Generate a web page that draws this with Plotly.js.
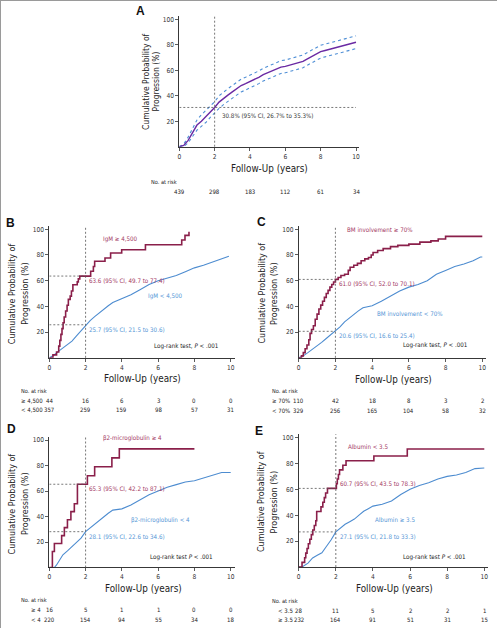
<!DOCTYPE html>
<html><head><meta charset="utf-8">
<script src="https://cdn.plot.ly/plotly-3.0.1.min.js"></script>
<style>html,body{margin:0;padding:0;background:#fff}#chart{width:497px;height:628px}</style>
</head><body><div id="chart"></div>
<script>
// ---------------- DATA ----------------
const landmarkYear = 2;
const riskTimes = [0, 2, 4, 6, 8, 10];

// Panel A: overall cumulative probability of progression with 95% CI
const aTime  = [0,0.25,0.5,0.75,1,1.25,1.5,1.75,2,2.25,2.5,2.75,3,3.25,3.5,3.75,4,4.25,4.5,4.75,5,5.25,5.5,5.75,6,6.25,6.5,6.75,7,7.25,7.5,7.75,8,8.25,8.5,8.75,9,9.25,9.5,9.75,10];
const aCum   = [0,1,5,11,17,20,23.5,27,30.8,35,38,40.5,43,45.5,48,49.5,51,52.5,54.5,56.5,58,60,61.5,62.5,63,64,65,66,67,69,71,73,74.6,75.5,76.4,77.5,78.5,79.5,80.4,81.3,82];
const aUpper = [0,2,7.5,14,21,25,28.5,32,35.3,40,43,45.5,48,50.5,53,54.5,56,57.5,59.5,61.5,63,65,66.5,67.5,68,69,70,71,72,74,76,78,79.6,80.5,81.4,82.5,83.5,84.5,85.4,86.3,87];
const aLower = [0,0,3,8,13,16,19,23,26.7,30,33,35.5,38,40.5,43,44.5,46,47.5,49.5,51.5,53,55,56.5,57.5,58,59,60,61,62,64,66,68,69.6,70.5,71.4,72.5,73.5,74.5,75.4,76.3,77];
const aEst = 30.8, aLo = 26.7, aHi = 35.3;
const aRisk = [439, 298, 183, 112, 61, 34];

// Panel B: IgM
const bGroups = ['IgM ≥ 4,500', 'IgM &lt; 4,500'];
const bRiskLabels = ['≥ 4,500', '&lt; 4,500'];
const bHighTime = [0,0.2,0.4,0.52,0.58,0.64,0.7,0.76,0.82,0.9,0.98,1.05,1.15,1.22,1.3,1.54,1.6,1.68,2.28,2.43,2.5,3.07,3.38,3.99,5.3,7.3,7.48,7.7];
const bHighCum  = [0,2.3,4.5,9.1,13.6,18.2,22.7,27.3,31.8,36.4,40.9,45.5,48,52,56.8,59.1,61.4,63.6,67.3,71,75.1,77.7,81.6,84.1,88,91.7,95.3,98];
const bLowTime  = [0,0.25,0.5,0.75,1,1.25,1.5,1.75,2,2.25,2.5,2.75,3,3.25,3.5,3.75,4,4.5,5,5.5,6,6.5,7,7.5,8,8.5,9,9.5,9.8,9.9];
const bLowCum   = [0,2,5,7.5,10,13,17,21,25.7,29,32,35,38,40.5,43,44.5,46,49,53,57,60,62,64,67,70,72,74.5,77,79,79];
const bEst = [63.6, 25.7], bLo = [49.7, 21.5], bHi = [77.4, 30.6];
const bRiskHigh = [44, 16, 6, 3, 0, 0];
const bRiskLow  = [357, 259, 159, 98, 57, 31];

// Panel C: BM involvement
const cGroups = ['BM involvement ≥ 70%', 'BM involvement &lt; 70%'];
const cRiskLabels = ['≥ 70%', '&lt; 70%'];
const cHighTime = [0,0.15,0.25,0.35,0.45,0.55,0.62,0.7,0.8,0.9,1.0,1.1,1.2,1.3,1.4,1.5,1.6,1.7,1.8,1.9,2.0,2.15,2.3,2.5,2.7,2.8,3.0,3.2,3.4,3.6,3.8,3.95,4.05,4.3,4.6,5.0,5.4,6.0,6.6,7.2,7.6,8.0,10];
const cHighCum  = [0,1.5,4,7,10,14,19,22,25,30,34,38,41,44,47,50,52.5,55,57,59,61,62.5,64,65,68,70.5,72,73.5,75.5,77,78,80,82,83.5,85,86.5,87.5,88.5,90,91,92.5,94.5,94.5];
const cLowTime  = [0,0.25,0.5,0.75,1,1.25,1.5,1.75,2,2.25,2.5,2.75,3,3.25,3.5,3.75,4,4.5,5,5.5,6,6.5,7,7.5,8,8.5,9,9.5,9.9,10];
const cLowCum   = [0,1.5,4,6.5,9,12,15,18,20.6,24,28,31,34,36.5,39,40,40.5,44,48,52,55,57,60,65,68,71,73,75.5,78.5,78.5];
const cEst = [61.0, 20.6], cLo = [52.0, 16.6], cHi = [70.1, 25.4];
const cRiskHigh = [110, 42, 18, 8, 3, 2];
const cRiskLow  = [329, 256, 165, 104, 58, 32];

// Panel D: beta2-microglobulin
const dGroups = ['β2-microglobulin ≥ 4', 'β2-microglobulin &lt; 4'];
const dRiskLabels = ['≥ 4', '&lt; 4'];
const dHighTime = [0,0.17,0.28,0.68,0.83,1.0,1.19,1.38,1.55,2.1,2.5,3.45,3.86,8.0];
const dHighCum  = [0,12.5,18.8,25,31.3,37.5,43.8,50,65.3,72,79,86,93,93];
const dLowTime  = [0,0.28,0.4,0.5,0.75,1,1.25,1.5,1.75,2,2.25,2.5,2.75,3,3.25,3.5,3.75,4,4.5,5,5.5,6,6.5,7,7.5,8,8.5,9,9.5,10];
const dLowCum   = [0,0,2,4,10,13,16.5,20,23,28.1,31,34,37,40,42.5,45,45.5,46,49,53,57,60,63,65,67,68,70,72,74.5,74.5];
const dEst = [65.3, 28.1], dLo = [42.2, 22.6], dHi = [87.1, 34.6];
const dRiskHigh = [16, 5, 1, 1, 0, 0];
const dRiskLow  = [220, 154, 94, 55, 34, 18];

// Panel E: albumin
const eGroups = ['Albumin &lt; 3.5', 'Albumin ≥ 3.5'];
const eRiskLabels = ['&lt; 3.5', '≥ 3.5'];
const eHighTime = [0,0.18,0.32,0.38,0.45,0.52,0.6,0.68,0.76,0.84,0.92,0.97,1.2,1.3,1.38,1.45,1.55,2.03,2.08,2.14,2.2,2.38,2.55,4.05,5.85,10];
const eHighCum  = [0,3.6,7.1,10.7,14.3,17.9,21.4,25,28.6,32.1,35.7,42.9,46.4,50,53.6,57.1,60.7,64.3,67.9,71.4,75,78.6,82.1,85.7,91.1,91.1];
const eLowTime  = [0,0.18,0.5,0.75,1,1.25,1.5,1.75,2,2.25,2.5,2.75,3,3.25,3.5,3.75,4,4.5,5,5.5,6,6.5,7,7.5,8,8.5,9,9.5,10];
const eLowCum   = [0,0,3,7,9,11,16,21,27.1,30,33,35,37,40,43,45,47,48.5,51,56,60,63,65,68,70,71,73,76,76.5];
const eEst = [60.7, 27.1], eLo = [43.5, 21.8], eHi = [78.3, 33.3];
const eRiskHigh = [28, 11, 5, 2, 2, 1];
const eRiskLow  = [232, 164, 91, 51, 31, 15];

// ---------------- STYLE / LAYOUT ----------------
const W = 497, H = 628;
const fx = p => p / W, fy = p => 1 - p / H;
const FONT = "'Liberation Sans Narrow', 'Arial Narrow', 'DejaVu Sans Condensed', 'Liberation Sans', Arial, sans-serif";
const BOLD = "'Liberation Sans', Arial, sans-serif";
const RED = '#8a1f4a', REDT = '#a3375f', BLUE = '#4d8cd0', BLUET = '#5596d6';
const PURPLE = '#6a2aa3', CIBLUE = '#4f8fd6', INK = '#222';
const SZ = {tick: 6.6, title: 9.8, ytitle: 8.9, note: 6.2, risk: 6, riskHead: 5.6};

const layout = {
  width: W, height: H, margin: {l: 0, r: 0, t: 0, b: 0}, showlegend: false,
  paper_bgcolor: '#fff', plot_bgcolor: 'rgba(0,0,0,0)',
  font: {family: FONT, color: INK},
  annotations: [], shapes: []
};
const data = [];

function axes(n, x0, xUnit, xMax, y0, yUnit, yMax) {
  const xk = n === 1 ? 'xaxis' : 'xaxis' + n, yk = n === 1 ? 'yaxis' : 'yaxis' + n;
  const common = {ticks: 'outside', ticklen: 3, tickwidth: 0.8, tickcolor: '#333', showline: true,
    linecolor: '#222', linewidth: 0.9, showgrid: false, zeroline: false, fixedrange: true,
    tickfont: {size: SZ.tick, family: FONT, color: '#333'}};
  layout[xk] = Object.assign({}, common, {domain: [fx(x0), fx(x0 + xMax * xUnit)], range: [0, xMax],
    anchor: 'y' + (n === 1 ? '' : n), tickvals: riskTimes});
  layout[yk] = Object.assign({}, common, {domain: [fy(y0), fy(y0 - yMax * yUnit)], range: [0, yMax],
    anchor: 'x' + (n === 1 ? '' : n), tickvals: [20, 40, 60, 80, 100]});
}
function ann(o) {
  layout.annotations.push(Object.assign({showarrow: false, xanchor: 'center', yanchor: 'middle',
    font: {family: FONT, size: SZ.note, color: INK}}, o));
}
function line(x, y, color, width, shape, dash) {
  return {x: x, y: y, mode: 'lines', line: {color: color, width: width, shape: shape || 'linear', dash: dash || 'solid'}, hoverinfo: 'skip'};
}
function dashShape(ax, x0, x1, y0, y1, yref) {
  layout.shapes.push({type: 'line', xref: ax.x, yref: yref || ax.y, x0: x0, x1: x1, y0: y0, y1: y1,
    line: {color: '#555', width: 0.8, dash: '2px,2px'}});
}
function yTitle(xa, xb, yc, size) {
  ann({xref: 'paper', yref: 'paper', x: fx(xa), y: fy(yc), text: 'Cumulative Probability of', textangle: -90, font: {family: FONT, size: size, color: INK}});
  ann({xref: 'paper', yref: 'paper', x: fx(xb), y: fy(yc), text: 'Progression (%)', textangle: -90, font: {family: FONT, size: size, color: INK}});
}
function xTitle(xc, yc, size) {
  ann({xref: 'paper', yref: 'paper', x: fx(xc), y: fy(yc), text: 'Follow-Up (years)', font: {family: FONT, size: size, color: INK}});
}
function letter(t, x, y) {
  ann({xref: 'paper', yref: 'paper', x: fx(x), y: fy(y), text: '<b>' + t + '</b>', font: {family: BOLD, size: 12, color: '#111'}});
}
const f1 = v => v.toFixed(1);

// ---------- Panel A ----------
axes(1, 179.3, 17.67, 10.15, 146.7, 1.274, 102.5);
const axA = {x: 'x', y: 'y'};
data.push(Object.assign(line(aTime, aUpper, CIBLUE, 1.1, 'linear', 'dot'), {xaxis: 'x', yaxis: 'y'}));
data.push(Object.assign(line(aTime, aLower, CIBLUE, 1.1, 'linear', 'dot'), {xaxis: 'x', yaxis: 'y'}));
data.push(Object.assign(line(aTime, aCum, PURPLE, 1.4), {xaxis: 'x', yaxis: 'y'}));
dashShape(axA, landmarkYear, landmarkYear, 0, 1, 'y domain');
dashShape(axA, 0, aTime[aTime.length - 1], aEst, aEst);
ann({xref: 'x', yref: 'y', x: landmarkYear + 0.28, y: aEst, yshift: -8, xanchor: 'left',
  text: f1(aEst) + '% (95% CI, ' + f1(aLo) + '% to ' + f1(aHi) + '%)', font: {family: FONT, size: SZ.note, color: '#333'}});
letter('A', 140, 11.5);
yTitle(146, 155.5, 82, 8.5);
xTitle(269, 168.3, SZ.title);
ann({xref: 'paper', yref: 'paper', x: fx(149), y: fy(182), xanchor: 'left', text: 'No. at risk', font: {family: FONT, size: SZ.riskHead, color: INK}});
riskTimes.forEach((t, i) => ann({xref: 'x', yref: 'paper', x: t, y: fy(191), text: String(aRisk[i]), font: {family: FONT, size: SZ.risk, color: INK}}));

// ---------- Panels B-E ----------
const panels = [
  {n: 2, L: 'B', x0: 49.3, xu: 18.14, xm: 10.25, y0: 357.8, yu: 1.285, letter: [10, 223],
   hiT: bHighTime, hiC: bHighCum, loT: bLowTime, loC: bLowCum, est: bEst, lo: bLo, hi: bHi,
   groups: bGroups, riskLab: bRiskLabels, r1: bRiskHigh, r2: bRiskLow,
   gPos: [[3.95, 92.7], [6.38, 48.3]], ciShift: [-4.5, -4.5], lr: 'Log-rank test, <i>P</i> &lt; .001', lrPos: [7.57, 9.4],
   yt: [11.7, 24.3, 293.5], xt: [142, 378.3], riskY: [390.7, 400, 409.3], riskX: 19, labX: 19},
  {n: 3, L: 'C', x0: 298.7, xu: 18.36, xm: 10.2, y0: 357.8, yu: 1.285, letter: [261, 222.5],
   hiT: cHighTime, hiC: cHighCum, loT: cLowTime, loC: cLowCum, est: cEst, lo: cLo, hi: cHi,
   groups: cGroups, riskLab: cRiskLabels, r1: cRiskHigh, r2: cRiskLow,
   gPos: [[4.43, 100], [6.06, 34.6]], ciShift: [-4.5, -4.5], lr: 'Log-rank test, <i>P</i> &lt; .001', lrPos: [7.45, 10.2],
   yt: [261, 273.5, 293.5], xt: [393.5, 379.3], riskY: [391.3, 400.7, 410], riskX: 269.7, labX: 269.7},
  {n: 4, L: 'D', x0: 49.3, xu: 18.14, xm: 10.25, y0: 567.5, yu: 1.275, letter: [11, 429],
   hiT: dHighTime, hiC: dHighCum, loT: dLowTime, loC: dLowCum, est: dEst, lo: dLo, hi: dHi,
   groups: dGroups, riskLab: dRiskLabels, r1: dRiskHigh, r2: dRiskLow,
   gPos: [[4.58, 101.2], [6.15, 37.3]], ciShift: [-4.5, -4.5], lr: 'Log-rank test <i>P</i> &lt; .001', lrPos: [7.31, 8.2],
   yt: [11.7, 24.3, 503.7], xt: [143, 588], riskY: [600.3, 609, 619.3], riskX: 19, labX: 29},
  {n: 5, L: 'E', x0: 298.7, xu: 18.56, xm: 10.2, y0: 567, yu: 1.295, letter: [258.5, 431],
   hiT: eHighTime, hiC: eHighCum, loT: eLowTime, loC: eLowCum, est: eEst, lo: eLo, hi: eHi,
   groups: eGroups, riskLab: eRiskLabels, r1: eRiskHigh, r2: eRiskLow,
   gPos: [[3.72, 92.9], [5.19, 37]], ciShift: [4.5, -4.5], lr: 'Log-rank test <i>P</i> &lt; .001', lrPos: [7.32, 7.5],
   yt: [261, 273.5, 502], xt: [394.7, 588.3], riskY: [600.7, 610, 619.3], riskX: 269.7, labX: 276.3}
];

panels.forEach(p => {
  axes(p.n, p.x0, p.xu, p.xm, p.y0, p.yu, 102.5);
  const ax = {x: 'x' + p.n, y: 'y' + p.n};
  data.push(Object.assign(line(p.loT, p.loC, BLUE, 1.1), {xaxis: ax.x, yaxis: ax.y}));
  data.push(Object.assign(line(p.hiT, p.hiC, RED, 1.6, 'hv'), {xaxis: ax.x, yaxis: ax.y}));
  dashShape(ax, landmarkYear, landmarkYear, 0, 1, ax.y + ' domain');
  p.est.forEach((e, i) => {
    dashShape(ax, 0, landmarkYear, e, e);
    ann({xref: ax.x, yref: ax.y, x: landmarkYear + 0.1, y: e, yshift: p.ciShift[i], xanchor: 'left',
      text: f1(e) + ' (95% CI, ' + f1(p.lo[i]) + ' to ' + f1(p.hi[i]) + ')',
      font: {family: FONT, size: SZ.note, color: i === 0 ? REDT : BLUET}});
  });
  // group labels: first = red curve, second = blue curve
  ann({xref: ax.x, yref: ax.y, x: p.gPos[0][0], y: p.gPos[0][1], text: p.groups[0], font: {family: FONT, size: SZ.note, color: REDT}});
  ann({xref: ax.x, yref: ax.y, x: p.gPos[1][0], y: p.gPos[1][1], text: p.groups[1], font: {family: FONT, size: SZ.note, color: BLUET}});
  ann({xref: ax.x, yref: ax.y, x: p.lrPos[0], y: p.lrPos[1], text: p.lr, font: {family: FONT, size: SZ.note, color: INK}});
  letter(p.L, p.letter[0], p.letter[1]);
  yTitle(p.yt[0], p.yt[1], p.yt[2], SZ.ytitle);
  xTitle(p.xt[0], p.xt[1], SZ.title);
  ann({xref: 'paper', yref: 'paper', x: fx(p.riskX), y: fy(p.riskY[0]), xanchor: 'left', text: 'No. at risk', font: {family: FONT, size: SZ.riskHead, color: INK}});
  ann({xref: 'paper', yref: 'paper', x: fx(p.labX), y: fy(p.riskY[1]), xanchor: 'left', text: p.riskLab[0], font: {family: FONT, size: SZ.risk, color: INK}});
  ann({xref: 'paper', yref: 'paper', x: fx(p.labX), y: fy(p.riskY[2]), xanchor: 'left', text: p.riskLab[1], font: {family: FONT, size: SZ.risk, color: INK}});
  riskTimes.forEach((t, i) => {
    ann({xref: ax.x, yref: 'paper', x: t, y: fy(p.riskY[1]), text: String(p.r1[i]), font: {family: FONT, size: SZ.risk, color: INK}});
    ann({xref: ax.x, yref: 'paper', x: t, y: fy(p.riskY[2]), text: String(p.r2[i]), font: {family: FONT, size: SZ.risk, color: INK}});
  });
});

// figure frame (top and left edges)
layout.shapes.push({type: 'line', xref: 'paper', yref: 'paper', x0: 0, x1: 1, y0: 1, y1: 1, line: {color: '#9a9a9a', width: 2}});
layout.shapes.push({type: 'line', xref: 'paper', yref: 'paper', x0: 0, x1: 0, y0: 0, y1: 1, line: {color: '#9a9a9a', width: 2}});

Plotly.newPlot('chart', data, layout, {staticPlot: true, displayModeBar: false});
</script></body></html>
